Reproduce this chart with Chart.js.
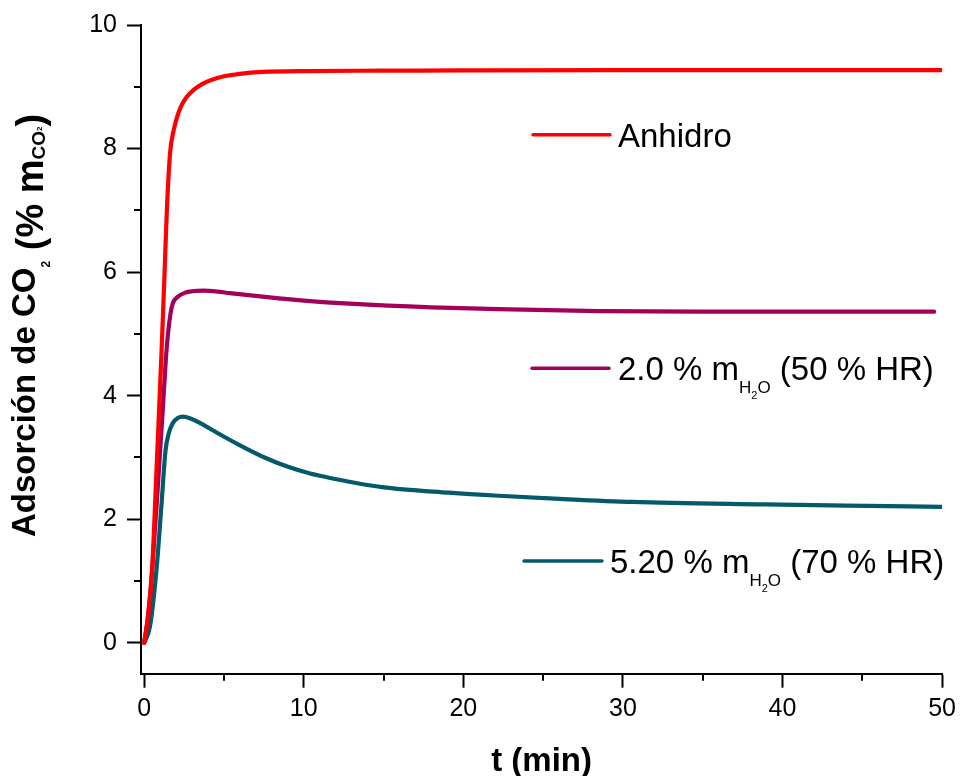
<!DOCTYPE html>
<html>
<head>
<meta charset="utf-8">
<script src="https://cdn.jsdelivr.net/npm/chart.js@4/dist/chart.umd.min.js"></script>
<style>
  html, body { margin: 0; padding: 0; background: #fff; }
  #wrap { width: 962px; height: 776px; }
</style>
</head>
<body>
<div id="wrap"><canvas id="chart" width="962" height="776"></canvas></div>
<script>
// ---- data ----
const seriesNames = ["Anhidro", "2.0 % mH2O (50 % HR)", "5.20 % mH2O (70 % HR)"];

const tAnh = [0, 0.25, 0.5, 0.77, 1.09, 1.25, 1.42, 1.62, 1.85, 2.05, 2.3, 2.65, 3.1, 3.6, 4.2, 5.0, 6.0, 7.4, 10, 15, 20, 30, 40, 50];
const vAnh = [0, 0.45, 1.2, 2.79, 4.73, 5.8, 7.0, 7.92, 8.3, 8.5, 8.68, 8.83, 8.95, 9.04, 9.11, 9.17, 9.21, 9.24, 9.255, 9.26, 9.265, 9.27, 9.27, 9.27];

const t50 = [0, 0.25, 0.5, 0.92, 1.19, 1.4, 1.65, 1.8, 2.1, 2.6, 3.0, 3.7, 4.6, 5.36, 7.86, 10, 12.86, 18.0, 22.2, 28.5, 35, 42, 49.5];
const v50 = [0, 0.45, 1.18, 2.79, 3.88, 4.74, 5.33, 5.5, 5.6, 5.67, 5.69, 5.70, 5.685, 5.66, 5.59, 5.54, 5.49, 5.43, 5.40, 5.37, 5.36, 5.36, 5.36];

const t70 = [0, 0.36, 0.77, 1.09, 1.34, 1.55, 1.8, 2.1, 2.44, 2.9, 3.48, 4.84, 5.98, 7.54, 9.1, 10.4, 11.8, 14.9, 19.1, 22.2, 26, 30.6, 38.9, 44, 50];
const v70 = [0, 0.26, 1.18, 2.26, 3.12, 3.4, 3.56, 3.64, 3.66, 3.63, 3.56, 3.36, 3.2, 3.0, 2.84, 2.74, 2.66, 2.52, 2.43, 2.38, 2.33, 2.28, 2.24, 2.22, 2.20];

const xTicks = [0, 10, 20, 30, 40, 50];
const xMinor = [5, 15, 25, 35, 45];
const yTicks = [0, 2, 4, 6, 8, 10];
const yMinor = [1, 3, 5, 7, 9];

// ---- styles ----
const FAM = '"Liberation Sans", Arial, sans-serif';
const COL = ["#ff0000", "#a3005b", "#04596a"];
const f = (s, b) => `${b ? "bold " : ""}${s}px ${FAM}`;

function pts(ts, vs){ return ts.map((t, i) => ({ x: t, y: vs[i] })); }

function drawRich(ctx, parts, x, y){
  parts.forEach(p => {
    ctx.font = p.f;
    ctx.fillText(p.t, x, y + (p.dy || 0));
    x += ctx.measureText(p.t).width;
  });
}

const legendRows = [
  { x0: 533, x1: 610, y: 134.7, tx: 618, parts: [{ t: "Anhidro", f: f(33) }] },
  { x0: 532, x1: 609, y: 368.3, tx: 618, parts: [
      { t: "2.0 % m", f: f(33) }, { t: "H", f: f(17), dy: 13 }, { t: "2", f: f(11), dy: 19 },
      { t: "O", f: f(17), dy: 13 }, { t: " (50 % HR)", f: f(33) } ] },
  { x0: 524, x1: 602, y: 561, tx: 610, parts: [
      { t: "5.20 % m", f: f(33) }, { t: "H", f: f(17), dy: 13 }, { t: "2", f: f(11), dy: 19 },
      { t: "O", f: f(17), dy: 13 }, { t: " (70 % HR)", f: f(33) } ] }
];

const overlay = {
  id: "overlay",
  afterDraw(chart){
    const { ctx, chartArea, scales: { x, y } } = chart;
    ctx.save();
    ctx.strokeStyle = "#000";
    ctx.lineWidth = 2;
    // minor ticks
    xMinor.forEach(v => {
      const px = Math.round(x.getPixelForValue(v));
      ctx.beginPath(); ctx.moveTo(px, chartArea.bottom); ctx.lineTo(px, chartArea.bottom + 7); ctx.stroke();
    });
    yMinor.forEach(v => {
      const py = Math.round(y.getPixelForValue(v));
      ctx.beginPath(); ctx.moveTo(chartArea.left, py); ctx.lineTo(chartArea.left - 7, py); ctx.stroke();
    });

    // legend
    ctx.fillStyle = "#000";
    ctx.textBaseline = "alphabetic";
    ctx.textAlign = "left";
    ctx.lineCap = "round";
    legendRows.forEach((r, i) => {
      ctx.strokeStyle = COL[i];
      ctx.lineWidth = 3.5;
      ctx.beginPath(); ctx.moveTo(r.x0, r.y); ctx.lineTo(r.x1, r.y); ctx.stroke();
      drawRich(ctx, r.parts, r.tx, r.y + 12);
    });

    // x title
    ctx.font = f(33, true);
    ctx.textAlign = "center";
    ctx.fillText("t (min)", (chartArea.left + chartArea.right) / 2, 771);

    // y title, rotated
    ctx.textAlign = "left";
    ctx.translate(35, 537);
    ctx.rotate(-Math.PI / 2);
    drawRich(ctx, [
      { t: "Adsorción de CO", f: f(33, true) },
      { t: "2", f: f(12, true), dy: 15 },
      { t: " (% m", f: f(38, true), dy: 8 },
      { t: "CO", f: f(19, true), dy: 10 },
      { t: "2", f: f(8, true), dy: 7 },
      { t: ")", f: f(38, true), dy: 8 }
    ], 0, 0);
    ctx.restore();
  }
};

const axisCommon = {
  type: "linear",
  border: { display: true, color: "#000", width: 2 },
  grid: { display: true, drawOnChartArea: false, drawTicks: true, tickLength: 14, tickWidth: 2, tickColor: "#000", color: "#000" },
  title: { display: false }
};

new Chart(document.getElementById("chart"), {
  type: "line",
  data: {
    datasets: [
      { label: seriesNames[0], data: pts(tAnh, vAnh), borderColor: COL[0] },
      { label: seriesNames[1], data: pts(t50, v50), borderColor: COL[1] },
      { label: seriesNames[2], data: pts(t70, v70), borderColor: COL[2] }
    ].map(d => ({ ...d, borderWidth: 4.2, pointRadius: 0, cubicInterpolationMode: "monotone",
                  borderCapStyle: "round", borderJoinStyle: "round", fill: false }))
  },
  options: {
    responsive: false,
    animation: false,
    layout: { padding: { left: 0, right: 17, top: 24.5, bottom: 0 } },
    plugins: { legend: { display: false }, tooltip: { enabled: false } },
    scales: {
      x: {
        ...axisCommon,
        position: "bottom",
        min: -0.2, max: 50,
        afterBuildTicks: s => { s.ticks = xTicks.map(v => ({ value: v })); },
        afterFit: s => { s.height = 102.3; },
        ticks: { color: "#000", font: { family: FAM, size: 25 }, padding: 6, maxRotation: 0 }
      },
      y: {
        ...axisCommon,
        position: "left",
        min: -0.5, max: 10,
        afterBuildTicks: s => { s.ticks = yTicks.map(v => ({ value: v })); },
        afterFit: s => { s.width = 141; },
        ticks: { color: "#000", font: { family: FAM, size: 25 }, padding: 10 }
      }
    }
  },
  plugins: [overlay]
});
</script>
</body>
</html>
